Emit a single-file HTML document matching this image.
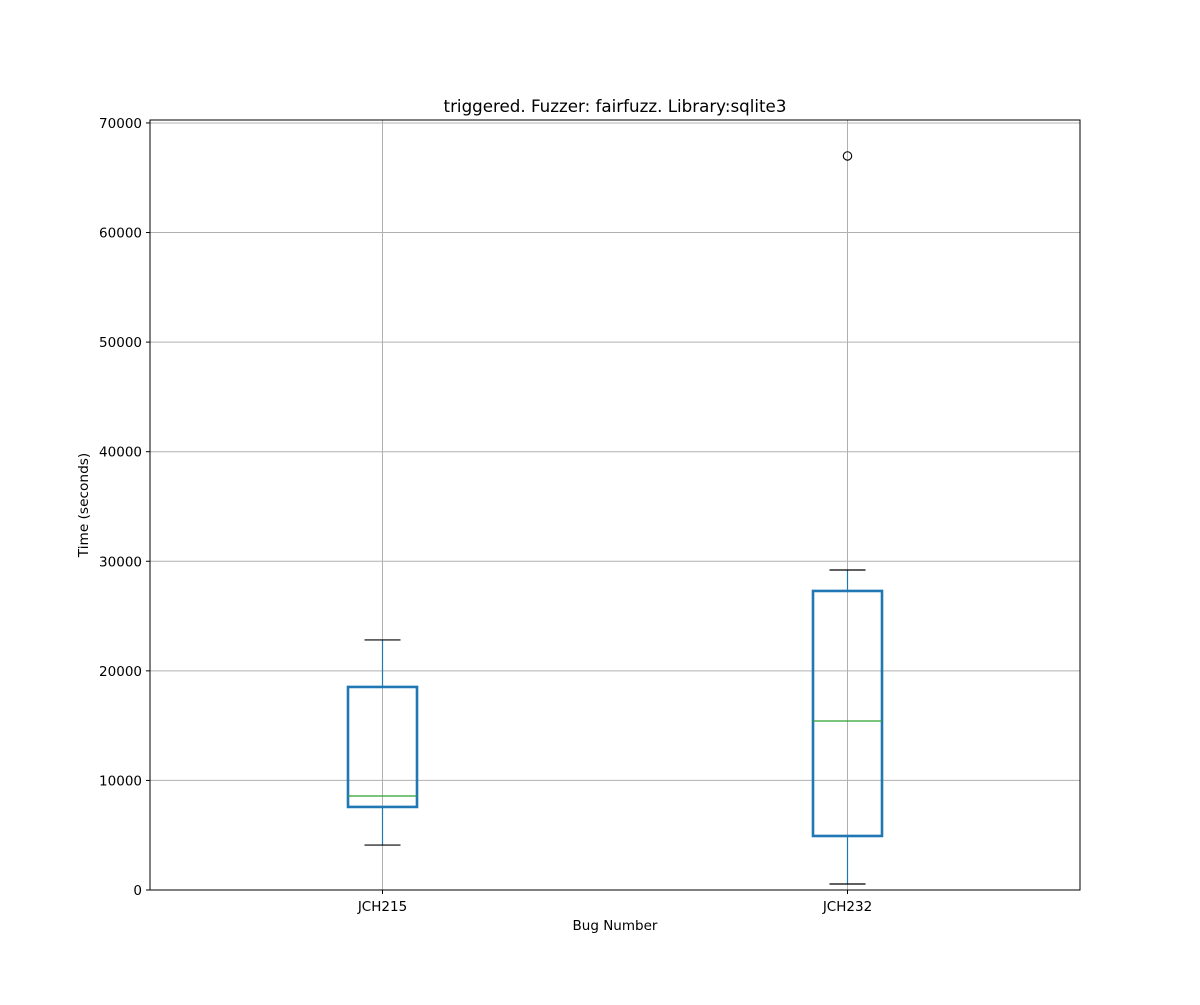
<!DOCTYPE html>
<html><head><meta charset="utf-8"><style>
body{margin:0;background:#fff;}
svg text{font-family:"DejaVu Sans","Liberation Sans",sans-serif;}
</style></head><body>
<svg id="chart" width="1200" height="1000" xmlns="http://www.w3.org/2000/svg">
<rect width="1200" height="1000" fill="#fff"/>
<g id="grid"></g><g id="marks"></g><g id="axes"></g>
</svg>
<script>
const categories = ["JCH215", "JCH232"];
const whiskerLow = [4100, 550];
const q1 = [7580, 4930];
const medians = [8580, 15420];
const q3 = [18530, 27290];
const whiskerHigh = [22820, 29200];
const outliers = [[], [66990]];
const yTicks = [0, 10000, 20000, 30000, 40000, 50000, 60000, 70000];

const L = 150, R = 1080, T = 120, B = 890, yMax = 70270;
const ns = "http://www.w3.org/2000/svg";
function x(i){ return L + (i + 0.5) * (R - L) / categories.length; }
function y(v){ return B - v / yMax * (B - T); }
function mk(parent, tag, attrs){
  const e = document.createElementNS(ns, tag);
  for (const k in attrs) e.setAttribute(k, attrs[k]);
  document.getElementById(parent).appendChild(e); return e;
}
function line(parent, x1, y1, x2, y2, stroke, w){
  return mk(parent, "line", {x1, y1, x2, y2, stroke, "stroke-width": w});
}
yTicks.forEach(t => {
  const g = line("grid", L, y(t), R, y(t), "#b0b0b0", 1);
  
  
});
categories.forEach((c, i) => {
  const g = line("grid", x(i), T, x(i), B, "#b0b0b0", 1);
  
  
});
const hw = 34.5, cap = 18;
categories.forEach((c, i) => {
  const cx = x(i);
  const w1 = line("marks", cx, y(q1[i]), cx, y(whiskerLow[i]), "#1f77b4", 1.2);
  
  
  const w2 = line("marks", cx, y(q3[i]), cx, y(whiskerHigh[i]), "#1f77b4", 1.2);
  
  
  const c1 = line("marks", cx - cap, y(whiskerLow[i]), cx + cap, y(whiskerLow[i]), "#000", 1.2);
  
  
  const c2 = line("marks", cx - cap, y(whiskerHigh[i]), cx + cap, y(whiskerHigh[i]), "#000", 1.2);
  
  
  const b = mk("marks", "rect", {x: cx - hw, y: y(q3[i]), width: 2 * hw, height: y(q1[i]) - y(q3[i]), fill: "none", stroke: "#1f77b4", "stroke-width": 2.6});
  
  
  const m = line("marks", cx - hw, y(medians[i]), cx + hw, y(medians[i]), "#2ca02c", 1.2);
  
  
  outliers[i].forEach(v => {
    const o = mk("marks", "circle", {cx, cy: y(v), r: 4.2, fill: "none", stroke: "#000", "stroke-width": 1.1});
    
    
  });
});
const frame = mk("axes", "rect", {x: L, y: T, width: R - L, height: B - T, fill: "none", stroke: "#000", "stroke-width": 1});


yTicks.forEach(t => {
  line("axes", L - 4, y(t), L, y(t), "#000", 1);
  const tx = mk("axes", "text", {x: L - 8, y: y(t) + 5, "text-anchor": "end", "font-size": 13.5});
  tx.textContent = t;
  
  
});
categories.forEach((c, i) => {
  line("axes", x(i), B, x(i), B + 4, "#000", 1);
  const tx = mk("axes", "text", {x: x(i), y: B + 21, "text-anchor": "middle", "font-size": 13.5});
  tx.textContent = c;
  
  
});
const xt = mk("axes", "text", {x: (L + R) / 2, y: 930, "text-anchor": "middle", "font-size": 13.5});
xt.textContent = "Bug Number";


const yt = mk("axes", "text", {x: 88, y: (T + B) / 2, "text-anchor": "middle", "font-size": 13.7, transform: "rotate(-90 88 " + (T + B) / 2 + ")"});
yt.textContent = "Time (seconds)";


const tt = mk("axes", "text", {x: (L + R) / 2, y: 112, "text-anchor": "middle", "font-size": 16.7});
tt.textContent = "triggered. Fuzzer: fairfuzz. Library:sqlite3";


</script>
</body></html>
